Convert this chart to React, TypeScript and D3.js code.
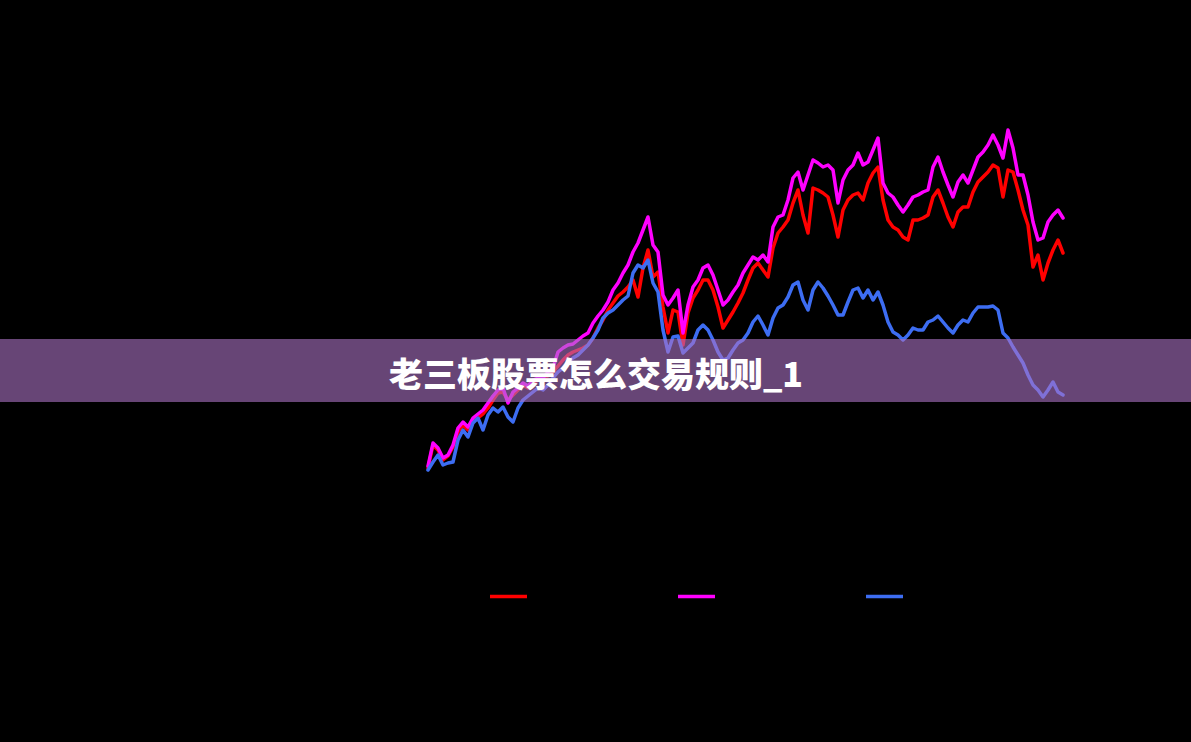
import React, { useEffect, useRef } from 'react';
import * as d3 from 'd3';

const TITLE = '老三板股票怎么交易规则_1';

const SERIES_KEYS = ['red', 'magenta', 'blue'];

const SERIES_COLORS: Record<string, string> = {
  red: '#ff0000',
  magenta: '#ff00ff',
  blue: '#3d6df2',
};

// values, one per step along the x axis
const redValues = [
  1, 12.5, 10, 5, 7, 11.5, 19, 22.5, 20, 25,
  26, 28, 31, 35, 38.5, 39, 35, 37.5, 40, 42.5,
  41, 43.5, 45, 46, 47, 49, 52, 55, 57.5, 59,
  60, 61, 62.5, 66, 71, 75, 80, 83.5, 87, 89,
  91.5, 95, 86.5, 101, 110, 96.5, 99, 81.5, 68.5, 80,
  79, 62.5, 78.5, 86, 90, 95, 95, 90, 81.5, 71,
  75, 79, 83.5, 88.5, 95, 101, 103.5, 100, 96.5, 111,
  118.5, 121.5, 125, 133.5, 140, 127.5, 118.5, 141, 140, 138.5,
  136.5, 127.5, 116.5, 130, 135, 137.5, 138.5, 135, 143.5, 148.5,
  151.5, 135, 125, 121.5, 120, 116.5, 115, 125, 125, 126,
  127.5, 136.5, 140, 133.5, 126.5, 121.5, 129, 131.5, 131.5, 139,
  144, 146.5, 149, 152.5, 151, 136.5, 150, 149, 140, 130,
  122.5, 101.5, 107.5, 95, 103.5, 110, 115, 108.5,
];

const magentaValues = [
  2, 13.5, 11, 6, 7.5, 12.5, 21, 24, 21.5, 26,
  28, 30, 33.5, 37, 40, 41, 33.5, 39, 41, 43.5,
  42, 45, 46, 46, 49, 51, 59, 61, 62.5, 63,
  65, 67, 68.5, 73.5, 77, 80, 84, 90, 93.5, 98.5,
  102.5, 109, 113.5, 120, 126.5, 112.5, 109, 87.5, 82.5, 86,
  90, 68.5, 82.5, 91.5, 95, 101, 102.5, 97.5, 90, 82.5,
  85, 89, 92.5, 98.5, 102.5, 106.5, 105, 107.5, 104, 121.5,
  126.5, 127.5, 135, 146, 149, 140, 147.5, 155, 153.5, 151.5,
  152.5, 150, 133.5, 145, 150, 152.5, 158.5, 152.5, 154, 160,
  166, 143.5, 138.5, 136.5, 132.5, 129, 132.5, 136.5, 137.5, 139,
  140, 151.5, 156.5, 149, 142.5, 136.5, 144, 147.5, 143.5, 150,
  156.5, 159, 162.5, 167.5, 162.5, 156, 170, 161, 147.5, 147.5,
  137.5, 124, 115, 116, 124, 127.5, 130, 126,
];

const blueValues = [
  0, 4, 7.5, 2.5, 3.5, 4, 15, 20, 16.5, 23.5,
  26, 20, 27.5, 31, 29, 31.5, 26.5, 24, 31, 35,
  37, 39, 41, 40, 42.5, 46, 49, 51, 54, 56,
  57.5, 60, 62.5, 66, 70, 76, 78.5, 80, 82.5, 85,
  87, 98.5, 102.5, 101, 105, 93.5, 89, 70, 59, 66.5,
  67, 58.5, 61, 63.5, 70, 72.5, 70, 65, 59, 55,
  56, 60, 63.5, 65, 68.5, 74, 77, 72.5, 67.5, 76,
  81, 82.5, 86.5, 92.5, 94, 85, 80, 90, 94, 91,
  87, 82.5, 77.5, 77.5, 84, 90, 91, 86, 90, 85,
  89, 82.5, 74, 69, 67.5, 65, 67.5, 71, 70, 70,
  74, 75, 77, 74, 71, 68.5, 72.5, 75, 74, 78.5,
  81.5, 81.5, 81.5, 82, 80, 68.5, 66, 61.5, 57.5, 53.5,
  47.5, 42.5, 40, 36.5, 40, 44, 39, 37.5,
];

const W = 1191;
const H = 742;

export default function App() {
  const svgRef = useRef<SVGSVGElement>(null);

  useEffect(() => {
    if (!svgRef.current) return;
    const svg = d3.select(svgRef.current);
    svg.selectAll('*').remove();

    svg.append('rect').attr('width', W).attr('height', H).attr('fill', '#000');

    const seriesData: Record<string, number[]> = {
      red: redValues,
      magenta: magentaValues,
      blue: blueValues,
    };

    const n = redValues.length;
    const x = d3.scaleLinear().domain([0, n - 1]).range([428, 1063]);
    const y = d3.scaleLinear().domain([0, 200]).range([470, 70]);

    const line = d3
      .line<number>()
      .x((_, i) => x(i))
      .y((d) => y(d));

    svg
      .append('g')
      .selectAll('path')
      .data(SERIES_KEYS)
      .join('path')
      .attr('d', (k) => line(seriesData[k]))
      .attr('fill', 'none')
      .attr('stroke', (k) => SERIES_COLORS[k])
      .attr('stroke-width', 3.5)
      .attr('stroke-linejoin', 'round')
      .attr('stroke-linecap', 'round');

    // legend swatches
    const legendX = d3.scaleLinear().domain([0, SERIES_KEYS.length - 1]).range([490, 866]);
    svg
      .append('g')
      .selectAll('line')
      .data(SERIES_KEYS)
      .join('line')
      .attr('x1', (_, i) => legendX(i))
      .attr('x2', (_, i) => legendX(i) + 37)
      .attr('y1', 596.5)
      .attr('y2', 596.5)
      .attr('stroke', (k) => SERIES_COLORS[k])
      .attr('stroke-width', 3.5);

    // title band
    svg
      .append('rect')
      .attr('x', 0)
      .attr('y', 339)
      .attr('width', W)
      .attr('height', 63)
      .attr('fill', 'rgb(172,115,197)')
      .attr('fill-opacity', 0.6);

    svg
      .append('text')
      .attr('x', 596)
      .attr('y', 372)
      .attr('text-anchor', 'middle')
      .attr('dominant-baseline', 'central')
      .attr('fill', '#fff')
      .attr('font-family', "'Noto Sans CJK SC', 'Noto Sans', sans-serif")
      .attr('font-weight', 900)
      .attr('font-size', '34px')
      .text(TITLE);
  }, []);

  return (
    <div style={{ position: 'fixed', left: 0, top: 0, width: W, height: H, background: '#000' }}>
      <svg ref={svgRef} width={W} height={H} style={{ display: 'block' }} />
    </div>
  );
}
